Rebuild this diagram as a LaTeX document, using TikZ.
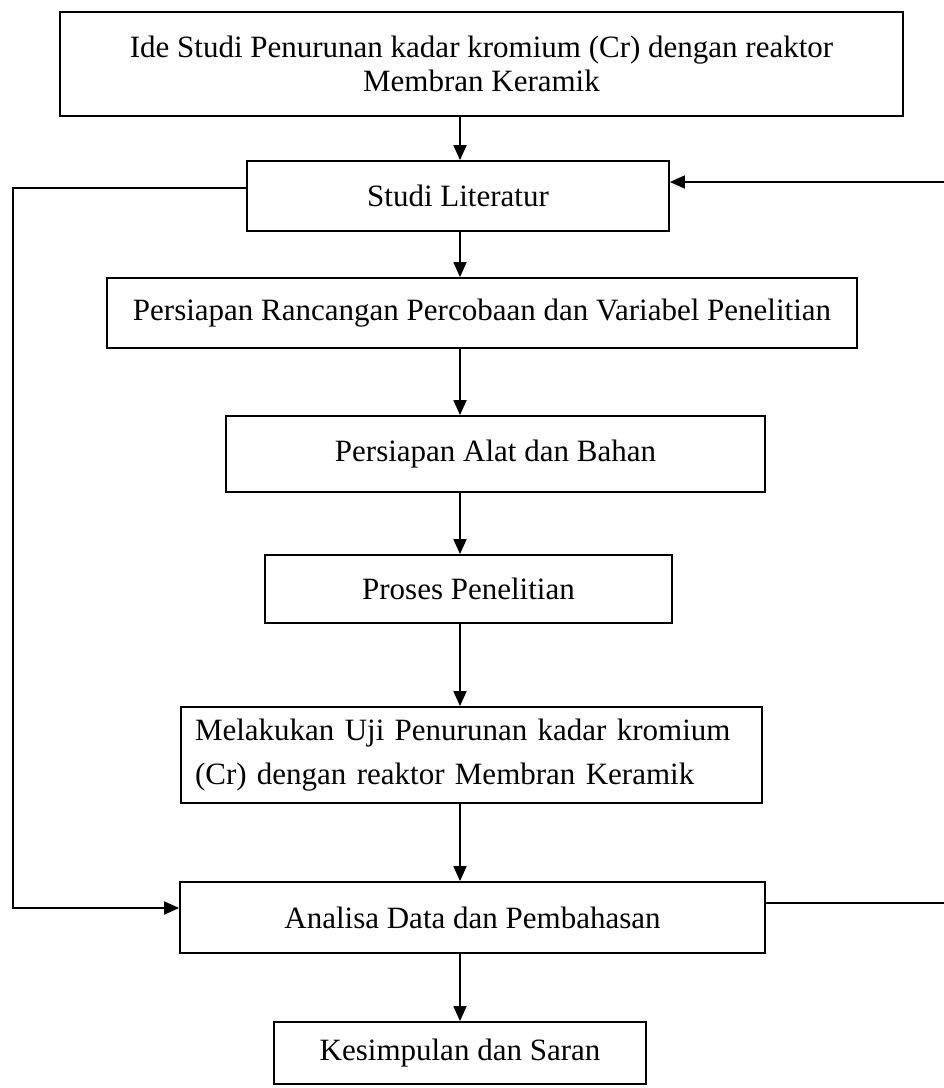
\documentclass[tikz,border=0pt]{standalone}
\usepackage{fontspec}
\setmainfont{Liberation Serif}
\usetikzlibrary{arrows.meta}
\begin{document}
\begin{tikzpicture}[x=1pt,y=-1pt,
  box/.style={draw,line width=1.8pt,inner sep=0pt,font=\fontsize{31}{34}\selectfont,align=center},
  conn/.style={line width=1.8pt},
  arr/.style={line width=1.8pt,-{Triangle[length=15pt,width=13pt]}}]
\useasboundingbox (0,0) rectangle (944,1088);
\node[box,minimum width=843pt,minimum height=104pt] (b1) at (481.5,64) {Ide Studi Penurunan kadar kromium (Cr) dengan reaktor\\Membran Keramik};
\node[box,minimum width=422pt,minimum height=70pt] (b2) at (458,196) {Studi Literatur};
\node[box,minimum width=750pt,minimum height=70pt] (b3) at (482,313) {Persiapan Rancangan Percobaan dan Variabel Penelitian};
\node[box,minimum width=539pt,minimum height=76pt] (b4) at (495.5,454) {Persiapan Alat dan Bahan};
\node[box,minimum width=407pt,minimum height=68pt] (b5) at (468.5,589) {Proses Penelitian};
\node[box,minimum width=581pt,minimum height=96pt,text width=553pt,align=left,font=\fontsize{31}{44}\selectfont] (b6) at (471.5,755) {\makebox[553pt][s]{Melakukan Uji Penurunan kadar kromium}\\(Cr) dengan reaktor Membran Keramik};
\node[box,minimum width=585pt,minimum height=71pt] (b7) at (472.5,917.5) {Analisa Data dan Pembahasan};
\node[box,minimum width=372pt,minimum height=62pt] (b8) at (460,1053) {Kesimpulan dan Saran};
\coordinate (col) at (460,0);
\draw[arr] (b1.south -| col) -- (b2.north -| col);
\draw[arr] (b2.south -| col) -- (b3.north -| col);
\draw[arr] (b3.south -| col) -- (b4.north -| col);
\draw[arr] (b4.south -| col) -- (b5.north -| col);
\draw[arr] (b5.south -| col) -- (b6.north -| col);
\draw[arr] (b6.south -| col) -- (b7.north -| col);
\draw[arr] (b7.south -| col) -- (b8.north -| col);
\coordinate (l1) at (13,188);
\coordinate (l2) at (13,908);
\draw[arr] (b2.west |- l1) -- (l1) -- (l2) -- (b7.west |- l2);
\coordinate (r1) at (944,903);
\coordinate (r2) at (944,182);
\draw[conn] (b7.east |- r1) -- (r1);
\draw[arr] (r2) -- (b2.east |- r2);
\end{tikzpicture}
\end{document}
